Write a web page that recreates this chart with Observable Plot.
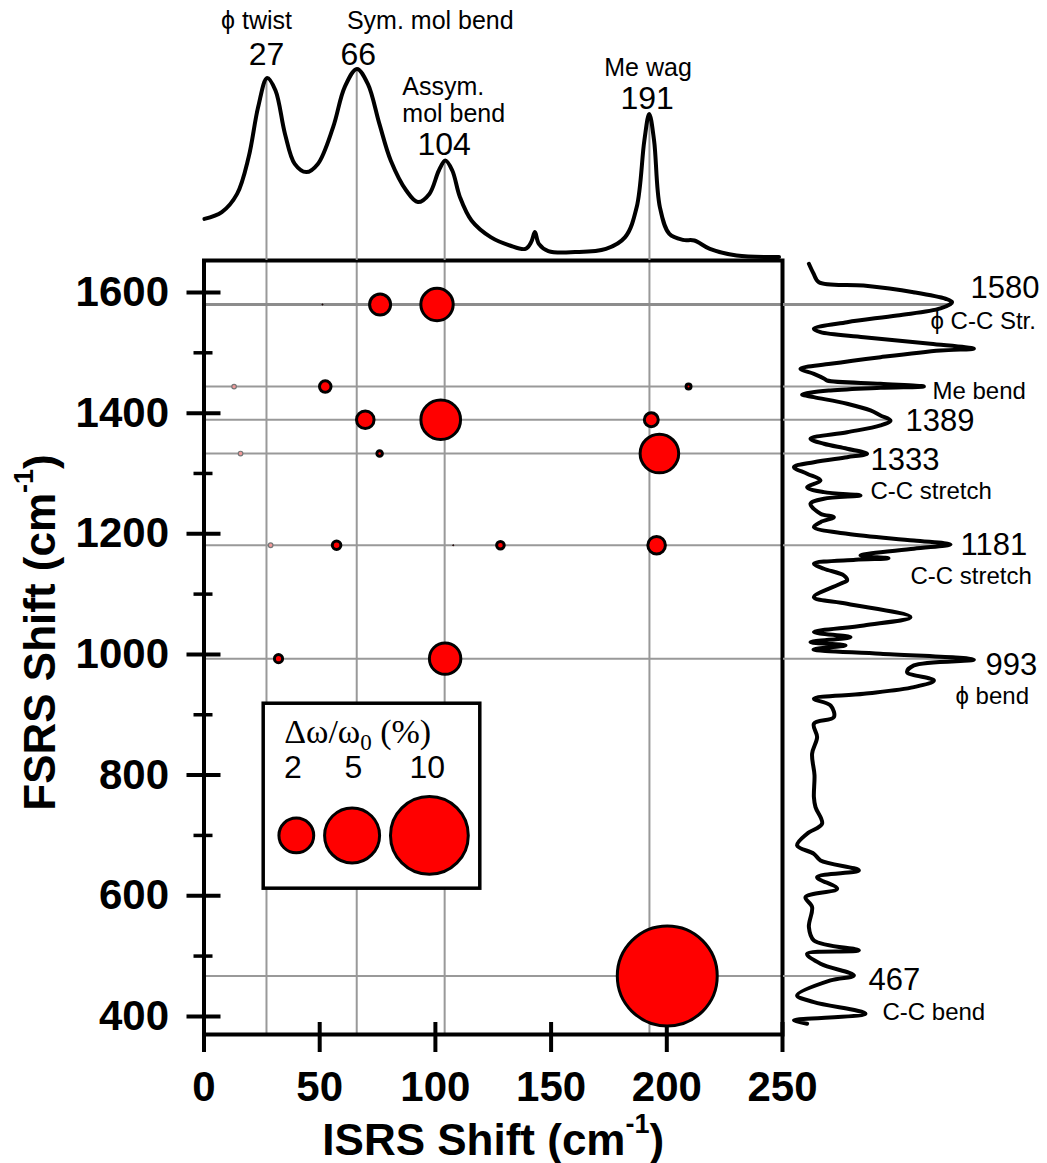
<!DOCTYPE html>
<html><head><meta charset="utf-8">
<script src="https://cdn.jsdelivr.net/npm/d3@7"></script>
<script src="https://cdn.jsdelivr.net/npm/@observablehq/plot@0.6"></script>
<style>
body{margin:0;background:#fff;}
#chart{position:relative;width:1047px;height:1163px;overflow:hidden;}
#chart svg{position:absolute;left:0;top:0;}
</style></head><body><div id="chart"></div>
<script>
// ---------------- DATA ----------------
const isrsTicks = [0, 50, 100, 150, 200, 250];
const fsrsTicks = [400, 600, 800, 1000, 1200, 1400, 1600];
const fsrsMinorTicks = [500, 700, 900, 1100, 1300, 1500];

// ISRS (low-frequency) modes: gridline positions
const isrsModes = [27, 66, 104, 192.5];
// FSRS (high-frequency) modes
const fsrsModes = [1580, 1444, 1389, 1333, 1181, 993, 467];

// coupling bubbles: ISRS shift, FSRS shift, Δω/ω0 (%)
const bubbleISRS  = [76.1, 100.7, 51.2, 52.4, 209.4, 69.7, 102.3, 193.3, 75.9, 196.8, 57.3, 107.7, 128.1, 195.6, 32.2, 104.2, 200.2];
const bubbleFSRS  = [1580, 1580, 1580, 1444, 1444, 1389, 1389, 1389, 1333, 1333, 1181, 1181, 1181, 1181, 993, 993, 467];
const bubbleShift = [0.73, 1.73, 0.002, 0.22, 0.04, 0.51, 2.6, 0.32, 0.05, 2.46, 0.12, 0.002, 0.095, 0.51, 0.11, 1.63, 16.5];
// weak (grey) couplings
const weakISRS  = [13.0, 15.8, 28.8];
const weakFSRS  = [1444, 1333, 1181];
const weakShift = [0.035, 0.035, 0.035];

// legend
const legendShift = [2, 5, 10];
const legendISRS = [39.9, 64.0, 97.4];
const legendLabelISRS = [38.4, 64.6, 96.5];

// ISRS spectrum (top): shift, intensity (a.u.)
const isrsSpecShift = [0.2, 7.7, 14.3, 19.3, 23.4, 27.3, 30.9, 35.0, 39.2, 44.2, 49.2, 55.8, 60.8, 66.1, 70.8, 75.8, 80.7, 87.4, 92.4, 97.4, 101.5, 104.3, 107.3, 110.6, 115.6, 123.9, 132.2, 138.9, 141.4, 143, 144.7, 148.8, 160.4, 173.7, 182, 187, 190.3, 192.4, 194.5, 197, 201.1, 207, 211.9, 218.6, 230.2, 248.5];
const isrsSpecInt   = [20.8, 24.2, 33.3, 51.7, 76.7, 91.3, 85, 63.3, 48.3, 44.2, 48.3, 66.7, 86.7, 95.8, 88.3, 68.3, 50, 35, 29.2, 33.3, 45, 50, 45, 31.7, 20, 11.7, 7.5, 5.8, 9.2, 14.2, 8.3, 4.7, 4.2, 5.8, 11.7, 26.7, 60, 73.3, 60, 26.7, 13.3, 10.3, 10, 5.8, 2.5, 1.7];

// FSRS spectrum (right): [shift, intensity (a.u.)]
const fsrsSpectrum = [
[1647.6,12.7],[1631.5,15],[1617,17.7],[1611.6,40],[1600.5,65],[1589.6,81],[1583.9,84.3],[1573.5,78.5],[1561.9,56.8],[1550.8,31.8],
[1539.8,15.2],[1534.2,18.5],[1525.9,40.2],[1515,73.5],[1506.7,95.2],[1503.9,78.5],[1492.8,48.5],[1481.8,23.5],[1473.5,8.5],[1465.2,15.2],
[1457.5,20.2],[1454.1,21.8],[1448.7,48.5],[1444.2,70.2],[1442,48.5],[1437.6,23.5],[1430.9,9.3],[1426.5,15.2],[1415.5,31.8],[1404.4,43.5],
[1396.1,48.5],[1387.8,53.5],[1379.6,48.5],[1368.4,31.8],[1357.5,13.5],[1349.2,20.2],[1340.9,31.8],[1332.6,41.8],[1327,31.8],[1318.7,15.2],
[1310.4,5.2],[1299.5,11.8],[1288.4,18.5],[1277.3,11.8],[1269,20.2],[1263.5,38.5],[1258.1,20.2],[1249.8,13.5],[1233.2,18.5],[1227.6,25.2],
[1219.3,18.5],[1211,15.2],[1200,31.8],[1188.9,65.2],[1182.3,83.5],[1175.2,65.2],[1164.1,38.5],[1159.5,52.5],[1157,36],[1150.3,15.2],
[1142,20.2],[1130.9,30.2],[1122.6,31.8],[1117.2,28.5],[1095,15.2],[1084,31.8],[1061.8,63.5],[1048.1,40.2],[1037,15.2],[1028.7,33.5],
[1020.4,13.5],[1015,31],[1008.3,15],[1001.1,48.5],[991.2,95.2],[981.8,65.2],[970.6,61.8],[956.9,75.2],[945.8,65.2],[934.8,40.2],
[926.5,15.2],[915.5,23.5],[896.1,25.2],[885.1,15.2],[862.9,16.8],[835.4,14.3],[800,15.5],[763.5,15.2],[746.9,16],[719.4,19.3],
[702.8,11.8],[683.4,6.8],[669.6,15.2],[658.6,18.5],[642,37.7],[630.9,16.8],[611.7,26.8],[597.7,11],[581.2,14.3],[548,12.7],
[526,15.2],[509.4,37.7],[503.9,11.8],[487.3,18.5],[467.9,35.2],[459.6,23.5],[434.8,6.8],[423.7,15.2],[404.5,41],[393.3,5.2],[387.8,11.8]
];

// annotations (top panel): text, ISRS anchor, intensity anchor
const topNumText = ["27", "66", "104", "191"];
const topNumX = [27, 66.7, 103.8, 191.5];
const topNumY = [103, 103, 58, 81];
const topNameText = ["\u03D5 twist", "Sym. mol bend", "Me wag"];
const topNameX = [22.7, 97.8, 191.9];
const topNameY = [120, 120, 96.5];
const topNameLeftText = ["Assym.", "mol bend"];
const topNameLeftX = [85.7, 85.7];
const topNameLeftY = [87, 73.5];

// annotations (right panel): text, intensity anchor, FSRS anchor
const rightNumText = ["1580", "1389", "1333", "1181", "993", "467"];
const rightNumX = [93.5, 61, 43.5, 88.5, 101, 42.5];
const rightNumY = [1606.6, 1386.2, 1321.5, 1180.7, 981.8, 459.7];
const rightNameText = ["\u03D5 C-C Str.", "Me bend", "C-C stretch", "C-C stretch", "\u03D5 bend", "C-C bend"];
const rightNameX = [73.5, 74.5, 43.5, 63.5, 86, 49.5];
const rightNameY = [1552, 1435.9, 1270.2, 1129.3, 930, 406.6];

// ---------------- BUILD ----------------
const W = 1047, H = 1163;
const fL = 203.5, fR = 782, fT = 260, fB = 1034;
const frameW = fR - fL, frameH = fB - fT;
const FONT = '"Liberation Sans", Arial, Helvetica, sans-serif';
const GRID = "#999999";
const RED = "#ff0000";

const bubbles = bubbleISRS.map((x, i) => ({x, y: bubbleFSRS[i], s: bubbleShift[i]}));
const weak = weakISRS.map((x, i) => ({x, y: weakFSRS[i], s: weakShift[i]}));
const topSpec = isrsSpecShift.map((x, i) => ({x, y: isrsSpecInt[i]}));
const rightSpec = fsrsSpectrum.map(([f, v]) => ({f, v}));

const topPeak = m => d3.max(topSpec.filter(d => Math.abs(d.x - m) <= 4), d => d.y);
const rightPeak = m => d3.max(rightSpec.filter(d => Math.abs(d.f - m) <= 6), d => d.v);

const baseStyle = {fontFamily: FONT, background: "transparent", overflow: "visible", color: "black"};

const main = Plot.plot({
  width: W, height: H,
  marginLeft: fL, marginRight: W - fR, marginTop: fT, marginBottom: H - fB,
  style: baseStyle,
  x: {domain: [0, 250]},
  y: {domain: [370, 1653]},
  r: {domain: [0, 10], range: [0, 38.9]},
  marks: [
    Plot.ruleX(isrsModes, {stroke: GRID, strokeWidth: 2}),
    Plot.ruleY(fsrsModes.filter(d => d !== 1580), {stroke: GRID, strokeWidth: 2}),
    Plot.ruleY(fsrsModes.filter(d => d === 1580), {stroke: "#8c8c8c", strokeWidth: 3}),
    // ticks (crossing the frame)
    Plot.ruleY(fsrsTicks, {insetLeft: -17, insetRight: frameW - 17, stroke: "black", strokeWidth: 4}),
    Plot.ruleY(fsrsMinorTicks, {insetLeft: -10, insetRight: frameW - 9, stroke: "black", strokeWidth: 3.5}),
    Plot.ruleX(isrsTicks, {insetBottom: -18, insetTop: frameH - 12, stroke: "black", strokeWidth: 4}),
    // legend
    Plot.rect([0], {x1: 25.8, x2: 119.4, y1: 611.7, y2: 918.3, fill: "white", stroke: "black", strokeWidth: 3.5}),
    Plot.dot(legendShift, {x: legendISRS, y: 700, r: d => d, fill: RED, stroke: "black", strokeWidth: 3}),
    Plot.text(legendShift, {x: legendLabelISRS, y: 812.7, text: d => String(d), fontSize: 32}),
    Plot.text(["\u0394\u03C9/\u03C90 (%)"], {x: 66.4, y: 870.7, fontSize: 34, fontFamily: '"Liberation Serif", "Times New Roman", serif'}),
    // bubbles
    Plot.dot(weak, {x: "x", y: "y", r: "s", fill: "#f29a9a", stroke: "#777", strokeWidth: 1.2}),
    Plot.dot(bubbles, {x: "x", y: "y", r: "s", fill: RED, stroke: "black", strokeWidth: d => d.s < 0.01 ? 1 : 3}),
    Plot.frame({stroke: "black", strokeWidth: 4}),
    Plot.axisY({ticks: fsrsTicks, tickFormat: d => String(d), tickSize: 0, tickPadding: 35, fontSize: 42, fontWeight: "bold", label: null}),
    Plot.axisX({ticks: isrsTicks, tickFormat: d => String(d), tickSize: 0, tickPadding: 37, fontSize: 42, fontWeight: "bold", label: null}),
    Plot.text(["ISRS Shift (cm"], {frameAnchor: "bottom", dy: 106, lineAnchor: "middle", textAnchor: "middle", fontSize: 44, fontWeight: "bold"}),
    Plot.text(["FSRS Shift (cm"], {frameAnchor: "left", dx: -163, dy: -15, rotate: -90, lineAnchor: "middle", textAnchor: "middle", fontSize: 44, fontWeight: "bold"})
  ]
});

const topPlot = Plot.plot({
  width: W, height: 262,
  marginLeft: fL, marginRight: W - fR, marginTop: 0, marginBottom: 2,
  style: baseStyle,
  x: {domain: [0, 250], axis: null},
  y: {domain: [0, 130], axis: null},
  marks: [
    Plot.ruleX(isrsModes, {x: d => d, y1: 0, y2: d => topPeak(d), stroke: GRID, strokeWidth: 2}),
    Plot.line(topSpec, {x: "x", y: "y", curve: "catmull-rom", stroke: "black", strokeWidth: 4}),
    Plot.text(topNumText, {x: topNumX, y: topNumY, text: d => d, fontSize: 32}),
    Plot.text(topNameText, {x: topNameX, y: topNameY, text: d => d, fontSize: 25}),
    Plot.text(topNameLeftText, {x: topNameLeftX, y: topNameLeftY, text: d => d, fontSize: 25, textAnchor: "start"})
  ]
});

const rightPlot = Plot.plot({
  width: W, height: H,
  marginLeft: fR + 1, marginRight: 0, marginTop: fT, marginBottom: H - fB,
  style: baseStyle,
  x: {domain: [0, 132], axis: null},
  y: {domain: [370, 1653], axis: null},
  marks: [
    Plot.ruleY(fsrsModes.filter(d => d !== 1580), {y: d => d, x1: 0, x2: d => rightPeak(d), stroke: GRID, strokeWidth: 2}),
    Plot.ruleY(fsrsModes.filter(d => d === 1580), {y: d => d, x1: 0, x2: d => rightPeak(d), stroke: "#8c8c8c", strokeWidth: 3}),
    Plot.line(rightSpec, {x: "v", y: "f", curve: "catmull-rom", stroke: "black", strokeWidth: 4}),
    Plot.text(rightNumText, {x: rightNumX, y: rightNumY, text: d => d, fontSize: 31, textAnchor: "start"}),
    Plot.text(rightNameText, {x: rightNameX, y: rightNameY, text: d => d, fontSize: 24, textAnchor: "start"})
  ]
});

const chart = document.getElementById("chart");
chart.appendChild(main);
chart.appendChild(topPlot);
chart.appendChild(rightPlot);

// superscripts / subscripts
function findText(svg, content) {
  return d3.select(svg).selectAll("text").filter(function() { return this.textContent === content; });
}
["ISRS Shift (cm", "FSRS Shift (cm"].forEach(label => {
  findText(main, label).each(function() {
    const t = d3.select(this);
    t.append("tspan").attr("dy", -22).attr("font-size", 27).text("-1");
    t.append("tspan").attr("dy", 22).text(")");
  });
});
findText(main, "\u0394\u03C9/\u03C90 (%)").each(function() {
  const t = d3.select(this);
  t.text("\u0394\u03C9/\u03C9");
  t.append("tspan").attr("dy", 7).attr("font-size", 23).text("0");
  t.append("tspan").attr("dy", -7).text(" (%)");
});
</script></body></html>
